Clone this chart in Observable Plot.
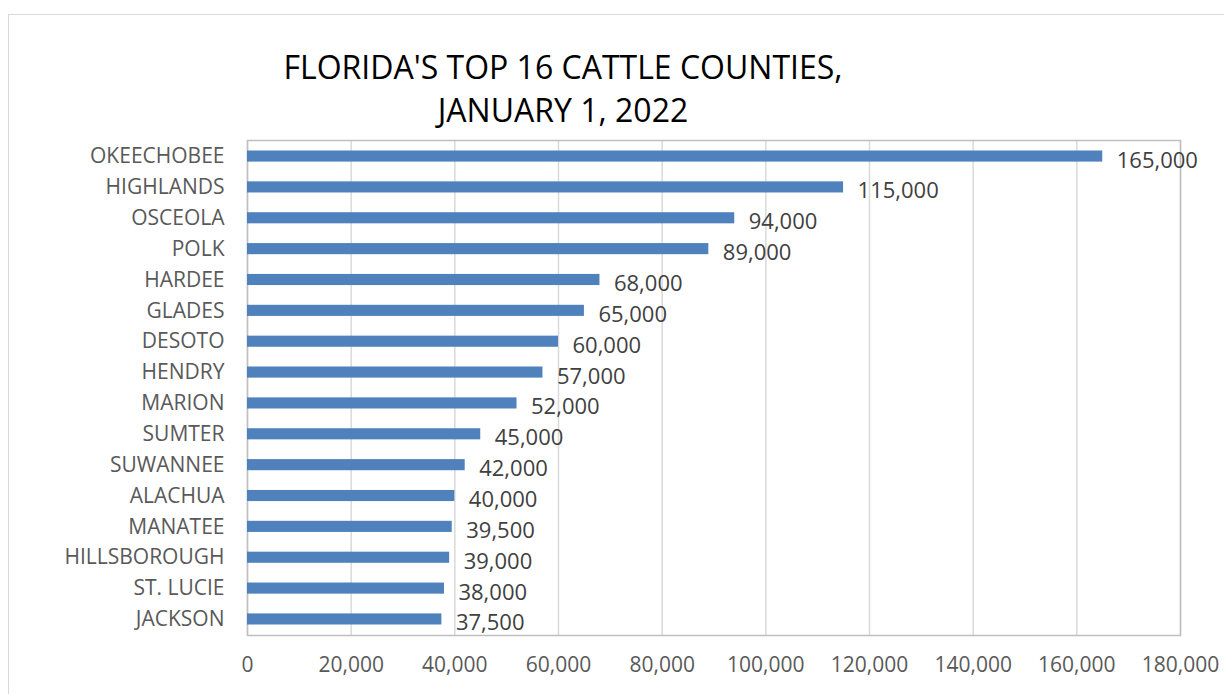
<!DOCTYPE html>
<html><head><meta charset="utf-8">
<script src="https://cdn.jsdelivr.net/npm/d3@7"></script>
<script src="https://cdn.jsdelivr.net/npm/@observablehq/plot@0.6"></script>
<style>
body{margin:0;background:#fff;}
#wrap{position:relative;width:1224px;height:694px;overflow:hidden;font-family:"Open Sans",sans-serif;}
#border{position:absolute;left:8px;top:14px;width:1240px;height:700px;border:1.5px solid #d9d9d9;box-sizing:border-box;}
#title{position:absolute;left:213px;width:700px;top:45px;text-align:center;font-size:32px;line-height:43px;color:#000;}
#chart{position:absolute;left:0;top:0;}
</style></head>
<body>
<div id="wrap"><div id="border"></div><div id="chart"></div>
<div id="title">FLORIDA'S TOP 16 CATTLE COUNTIES,<br>JANUARY 1, 2022</div></div>
<script>
const counties = ["OKEECHOBEE","HIGHLANDS","OSCEOLA","POLK","HARDEE","GLADES","DESOTO","HENDRY","MARION","SUMTER","SUWANNEE","ALACHUA","MANATEE","HILLSBOROUGH","ST. LUCIE","JACKSON"];
const cattle = [165000,115000,94000,89000,68000,65000,60000,57000,52000,45000,42000,40000,39500,39000,38000,37500];
const xTicks = [0,20000,40000,60000,80000,100000,120000,140000,160000,180000];
const data = counties.map((c,i)=>({county:c, value:cattle[i]}));
const fmt = d3.format(",");
const plot = Plot.plot({
  width:1224, height:694,
  marginLeft:247, marginRight:44, marginTop:140, marginBottom:59,
  style:{fontFamily:"Open Sans, sans-serif", fontSize:"21px", color:"#595959", background:"transparent", overflow:"visible"},
  x:{domain:[0,180000], ticks:xTicks, tickFormat:fmt, label:null, tickSize:0, tickPadding:22},
  y:{domain:counties, label:null, paddingInner:0.64, paddingOuter:0.34, round:false, tickSize:0, tickPadding:23},
  marks:[
    Plot.gridX(xTicks,{stroke:"#d9d9d9", strokeOpacity:1, strokeWidth:1.5}),
    Plot.frame({stroke:"#bfbfbf", strokeWidth:1.5}),
    Plot.barX(data,{y:"county", x:"value", fill:"#4f81bd"}),
    Plot.text(data,{y:"county", x:"value", text:d=>fmt(d.value), textAnchor:"start", dx:14, dy:4, fill:"#404040", fontSize:22}),
    Plot.axisX({ticks:xTicks, tickFormat:fmt, tickSize:0, tickPadding:22, fill:"#595959", label:null, fontSize:21}),
    Plot.axisY({tickSize:0, tickPadding:23, fill:"#595959", label:null, fontSize:21})
  ]
});
document.getElementById("chart").appendChild(plot);
</script>
</body></html>
